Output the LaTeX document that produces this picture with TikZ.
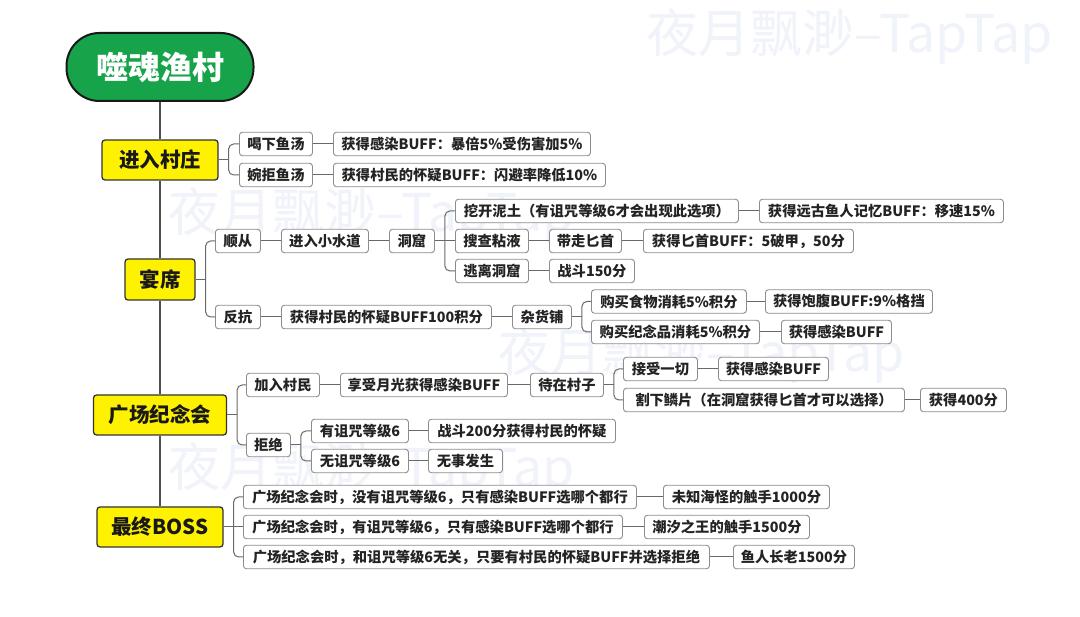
\documentclass[tikz,border=0pt]{standalone}
\usepackage{fontspec}
\setmainfont{Noto Sans CJK SC}
\newfontfamily\wmfont{Noto Sans CJK SC}
\definecolor{rootgreen}{RGB}{22,163,74}
\definecolor{lvyellow}{RGB}{255,242,0}
\definecolor{boxline}{RGB}{140,140,140}
\definecolor{txtgray}{RGB}{35,35,35}
\definecolor{linegray}{RGB}{105,105,105}
\definecolor{spinegray}{RGB}{80,80,80}
\definecolor{wmcolor}{RGB}{240,243,250}
\tikzset{
  leaf/.style={draw=boxline, line width=0.9pt, rounded corners=3pt, fill=white, text=txtgray,
    font=\bfseries\fontsize{14.3}{16}\selectfont, minimum height=23.5pt, inner xsep=2pt, inner ysep=0pt},
  levelbox/.style={draw=black!80, line width=1.3pt, rounded corners=3pt, fill=lvyellow, text=black!90,
    font=\bfseries\fontsize{20.5}{24}\selectfont, minimum height=40pt, inner sep=0pt},
  rootbox/.style={draw=black!90, line width=2pt, rounded corners=33pt, fill=rootgreen, text=white,
    font=\bfseries\fontsize{32}{36}\selectfont, minimum width=187pt, minimum height=68pt, inner sep=0pt},
  conn/.style={draw=linegray, line width=1pt},
  spine/.style={draw=spinegray, line width=2pt},
  wm/.style={text=wmcolor, font=\wmfont\fontsize{52}{56}\selectfont, anchor=base west, inner sep=0pt}
}
\newcommand\leafnode[5]{\node[leaf, anchor=west, minimum width=\the\numexpr#3-#2\relax pt] (#1) at (#2,#4) {#5};}
% \forkto{parent}{children above/below}{children level with the parent}
\newcommand\forkto[3]{\draw[conn] (#1.east) -- ++(10,0) coordinate (#1j);
  \foreach \c in {#2} {\draw[conn, rounded corners=5pt] (#1j) |- (\c.west);}
  \foreach \c in {#3} {\draw[conn] (#1j) -- (\c.west);}}
\newcommand\linkto[2]{\draw[conn] (#1.east) -- (#2.west);}
\begin{document}
\begin{tikzpicture}[x=1pt,y=-1pt]
\useasboundingbox[fill=white] (0,0) rectangle (1080,617);
% watermarks
\node[wm] (wm1) at (646,53) {夜月飘渺–TapTap};
\node[wm] (wm2) at (168,232) {夜月飘渺–TapTap};
\node[wm] (wm3) at (498,372) {夜月飘渺–TapTap};
\node[wm] (wm4) at (168,487) {夜月飘渺–TapTap};
% root and levels
\node[rootbox] (root) at (160,67) {噬魂渔村};
\node[levelbox, minimum width=116pt] (y1) at (160,160) {进入村庄};
\node[levelbox, minimum width=70pt, minimum height=41pt] (y2) at (160,279.5) {宴席};
\node[levelbox, minimum width=133pt] (y3) at (160,415) {广场纪念会};
\node[levelbox, minimum width=126pt] (y4) at (160,527) {最终BOSS};
\draw[spine] (root.south) -- (y1.north);
\draw[spine] (y1.south) -- (y2.north);
\draw[spine] (y2.south) -- (y3.north);
\draw[spine] (y3.south) -- (y4.north);
% section 1
\leafnode{a1}{239}{312}{144}{喝下鱼汤}
\leafnode{a2}{239}{312}{175}{婉拒鱼汤}
\leafnode{a1r}{333}{590}{144}{获得感染BUFF：暴倍5\%受伤害加5\%}
\leafnode{a2r}{333}{605}{175}{获得村民的怀疑BUFF：闪避率降低10\%}
% section 2
\leafnode{b1}{215}{260}{241}{顺从}
\leafnode{b2}{281}{368}{241}{进入小水道}
\leafnode{b3}{389}{434}{241}{洞窟}
\leafnode{b4a}{455}{738}{211}{挖开泥土（有诅咒等级6才会出现此选项）}
\leafnode{b4b}{455}{528}{241}{搜查粘液}
\leafnode{b4c}{455}{528}{271}{逃离洞窟}
\leafnode{b5a}{759}{1003}{211}{获得远古鱼人记忆BUFF：移速15\%}
\leafnode{b5b}{549}{621}{241}{带走匕首}
\leafnode{b6b}{643}{853}{241}{获得匕首BUFF：5破甲，50分}
\leafnode{b5c}{549}{634}{271}{战斗150分}
\leafnode{c1}{215}{260}{317}{反抗}
\leafnode{c2}{281}{491}{317}{获得村民的怀疑BUFF100积分}
\leafnode{c3}{512}{571}{317}{杂货铺}
\leafnode{c4a}{591}{746}{301.5}{购买食物消耗5\%积分}
\leafnode{c4b}{591}{759}{332}{购买纪念品消耗5\%积分}
\leafnode{c5a}{765}{932}{301.5}{获得饱腹BUFF:9\%格挡}
\leafnode{c5b}{781}{891}{332}{获得感染BUFF}
% section 3
\leafnode{d1}{246}{319}{385}{加入村民}
\leafnode{d2}{340}{507}{385}{享受月光获得感染BUFF}
\leafnode{d3}{530}{603}{385}{待在村子}
\leafnode{d4a}{623}{697}{369}{接受一切}
\leafnode{d4b}{623}{904}{400}{割下鳞片（在洞窟获得匕首才可以选择）}
\leafnode{d5a}{718}{828}{369}{获得感染BUFF}
\leafnode{d5b}{920}{1006}{400}{获得400分}
\leafnode{e1}{246}{290}{445}{拒绝}
\leafnode{e2a}{311}{408}{431}{有诅咒等级6}
\leafnode{e2b}{311}{408}{461}{无诅咒等级6}
\leafnode{e3a}{428}{615}{431}{战斗200分获得村民的怀疑}
\leafnode{e3b}{428}{502}{461}{无事发生}
% section 4
\leafnode{f1}{243}{636}{497}{广场纪念会时，没有诅咒等级6，只有感染BUFF选哪个都行}
\leafnode{f2}{243}{622}{527}{广场纪念会时，有诅咒等级6，只有感染BUFF选哪个都行}
\leafnode{f3}{243}{709}{557}{广场纪念会时，和诅咒等级6无关，只要有村民的怀疑BUFF并选择拒绝}
\leafnode{g1}{663}{829}{497}{未知海怪的触手1000分}
\leafnode{g2}{644}{809}{527}{潮汐之王的触手1500分}
\leafnode{g3}{733}{854}{557}{鱼人长老1500分}
% connectors
\forkto{y1}{a1,a2}{}
\linkto{a1}{a1r}
\linkto{a2}{a2r}
\forkto{y2}{b1,c1}{}
\linkto{b1}{b2}
\linkto{b2}{b3}
\forkto{b3}{b4a,b4c}{b4b}
\linkto{b4a}{b5a}
\linkto{b4b}{b5b}
\linkto{b5b}{b6b}
\linkto{b4c}{b5c}
\linkto{c1}{c2}
\linkto{c2}{c3}
\forkto{c3}{c4a,c4b}{}
\linkto{c4a}{c5a}
\linkto{c4b}{c5b}
\forkto{y3}{d1,e1}{}
\linkto{d1}{d2}
\linkto{d2}{d3}
\forkto{d3}{d4a,d4b}{}
\linkto{d4a}{d5a}
\linkto{d4b}{d5b}
\forkto{e1}{e2a,e2b}{}
\linkto{e2a}{e3a}
\linkto{e2b}{e3b}
\forkto{y4}{f1,f3}{f2}
\linkto{f1}{g1}
\linkto{f2}{g2}
\linkto{f3}{g3}
\end{tikzpicture}
\end{document}
